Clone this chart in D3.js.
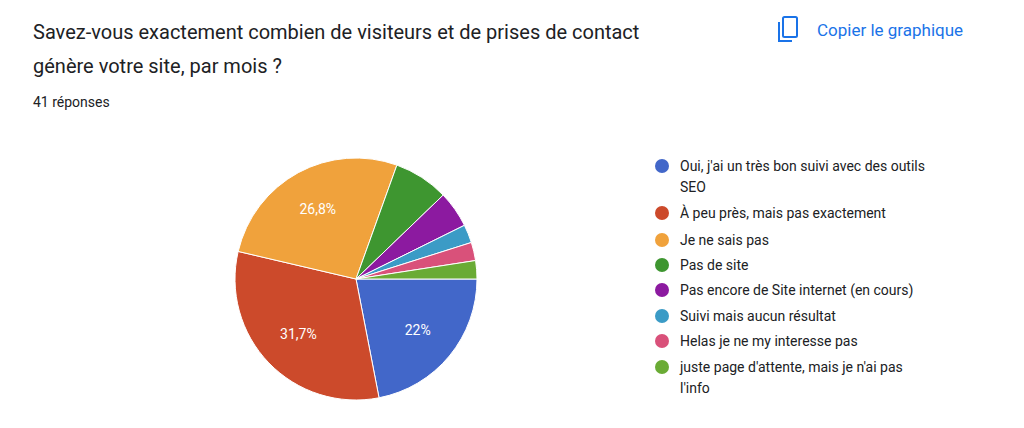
<!DOCTYPE html>
<html><head><meta charset="utf-8">
<script src="https://cdn.jsdelivr.net/npm/d3@7"></script>
<style>body{margin:0;background:#fff;font-family:Roboto,"Noto Sans",sans-serif}</style>
</head><body><svg id="chart" width="1024" height="428"></svg>
<script>
const labels=[
  ["Oui, j'ai un très bon suivi avec des outils","SEO"],
  ["À peu près, mais pas exactement"],
  ["Je ne sais pas"],
  ["Pas de site"],
  ["Pas encore de Site internet (en cours)"],
  ["Suivi mais aucun résultat"],
  ["Helas je ne my interesse pas"],
  ["juste page d'attente, mais je n'ai pas","l'info"]
];
const counts=[9,13,11,3,2,1,1,1];
const pctLabels=["22%","31,7%","26,8%","","","","",""];
const colors=["#4267c9","#cc4a2b","#f0a23c","#3e9630","#8c1aa0","#3b9bc6","#d9517a","#6aab35"];

const svg=d3.select("#chart");
svg.append("text").attr("x",33).attr("y",39).attr("font-size",20).attr("fill","#202124")
  .text("Savez-vous exactement combien de visiteurs et de prises de contact");
svg.append("text").attr("x",33).attr("y",73).attr("font-size",20).attr("fill","#202124")
  .text("génère votre site, par mois ?");
svg.append("text").attr("x",33).attr("y",107).attr("font-size",14).attr("fill","#202124")
  .text("41 réponses");

// copy icon
const ic=svg.append("g").attr("fill","none").attr("stroke","#1a73e8").attr("stroke-width",2);
ic.append("path").attr("d","M779 22 V41 H792");
ic.append("rect").attr("x",783).attr("y",17).attr("width",14).attr("height",20).attr("rx",1.5);
svg.append("text").attr("x",817).attr("y",36).attr("font-size",17).attr("fill","#1a73e8")
  .text("Copier le graphique");

const pie=d3.pie().sort(null).startAngle(Math.PI/2).endAngle(Math.PI/2+2*Math.PI);
const arcs=pie(counts);
const arc=d3.arc().innerRadius(0).outerRadius(121);
const g=svg.append("g").attr("transform","translate(356,279)");
g.selectAll("path").data(arcs).join("path")
  .attr("d",arc).attr("fill",(d,i)=>colors[i]).attr("stroke","#fff").attr("stroke-width",1);
const lab=d3.arc().innerRadius(80).outerRadius(80);
g.selectAll("text").data(arcs).join("text")
  .attr("transform",d=>`translate(${lab.centroid(d)})`)
  .attr("text-anchor","middle").attr("dy","0.35em").attr("font-size",14).attr("fill","#fff")
  .text((d,i)=>pctLabels[i]);

const rows=[166,213,240,265,290,316,341,367];
const lg=svg.append("g");
labels.forEach((l,i)=>{
  lg.append("circle").attr("cx",662).attr("cy",rows[i]).attr("r",7).attr("fill",colors[i]);
  l.forEach((t,j)=>lg.append("text").attr("x",680).attr("y",rows[i]+5+j*21)
    .attr("font-size",14).attr("fill","#202124").text(t));
});
</script></body></html>
